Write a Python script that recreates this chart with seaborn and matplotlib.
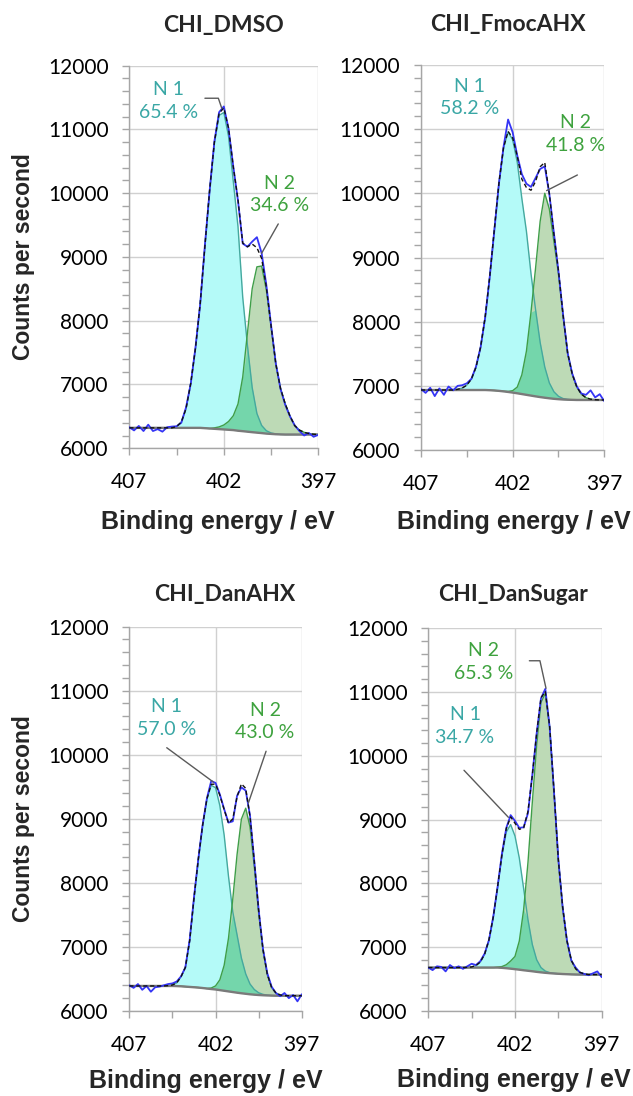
import numpy as np
import pandas as pd
import matplotlib
matplotlib.use("Agg")
import matplotlib.pyplot as plt
from matplotlib.ticker import MultipleLocator, FixedLocator
import seaborn as sns

# binding energy grid (eV), read every 0.25 eV
energy = [407.0, 406.75, 406.5, 406.25, 406.0, 405.75, 405.5, 405.25, 405.0, 404.75,
          404.5, 404.25, 404.0, 403.75, 403.5, 403.25, 403.0, 402.75, 402.5, 402.25,
          402.0, 401.75, 401.5, 401.25, 401.0, 400.75, 400.5, 400.25, 400.0, 399.75,
          399.5, 399.25, 399.0, 398.75, 398.5, 398.25, 398.0, 397.75, 397.5, 397.25, 397.0]

titles = ["CHI_DMSO", "CHI_FmocAHX", "CHI_DanAHX", "CHI_DanSugar"]
n1_pct = ["65.4 %", "58.2 %", "57.0 %", "34.7 %"]
n2_pct = ["34.6 %", "41.8 %", "43.0 %", "65.3 %"]

# CHI_DMSO: background, component heights above background, measured counts
dmso_bg = [6320, 6320, 6320, 6320, 6320, 6320, 6320, 6320, 6320, 6320, 6320, 6320, 6320, 6320,
           6320, 6320, 6315, 6310, 6305, 6300, 6295, 6290, 6285, 6275, 6268, 6260, 6252, 6245,
           6238, 6230, 6225, 6220, 6217, 6215, 6215, 6215, 6215, 6215, 6215, 6215, 6215]
dmso_n1 = [0, 0, 0, 0, 0, 0, 0, 0, 0, 0, 20, 90, 300, 700, 1250, 1950, 2860, 3740, 4480, 4920,
           4970, 4600, 3900, 3200, 2100, 1350, 700, 300, 120, 45, 15, 5, 0, 0, 0, 0, 0, 0, 0, 0, 0]
dmso_n2 = [0, 0, 0, 0, 0, 0, 0, 0, 0, 0, 0, 0, 0, 0, 0, 0, 0, 0, 15, 35, 70, 130, 225, 420, 850,
           1550, 2250, 2600, 2620, 2250, 1680, 1100, 720, 480, 290, 140, 70, 35, 15, 5, 0]
dmso_raw = [6330, 6280, 6350, 6270, 6370, 6270, 6300, 6260, 6330, 6340, 6345, 6400, 6640, 7010,
            7580, 8260, 9190, 10040, 10810, 11270, 11360, 11010, 10420, 9880, 9210, 9160, 9240,
            9310, 9060, 8560, 7930, 7330, 6930, 6680, 6500, 6360, 6270, 6200, 6240, 6180, 6210]

# CHI_FmocAHX
fmoc_bg = [6935, 6935, 6935, 6935, 6935, 6935, 6935, 6935, 6935, 6935, 6935, 6935, 6935, 6935,
           6935, 6932, 6928, 6922, 6914, 6905, 6895, 6884, 6872, 6860, 6848, 6836, 6825, 6815,
           6806, 6798, 6792, 6787, 6784, 6782, 6780, 6780, 6780, 6780, 6780, 6780, 6780]
fmoc_n1 = [0, 0, 0, 0, 0, 0, 0, 0, 11, 31, 76, 172, 355, 668, 1138, 1772, 2509, 3234, 3794, 4052,
           3940, 3600, 3050, 2550, 1900, 1350, 850, 480, 240, 110, 45, 15, 5, 0, 0, 0, 0, 0, 0, 0, 0]
fmoc_n2 = [0, 0, 0, 0, 0, 0, 0, 0, 0, 0, 0, 0, 0, 0, 0, 0, 0, 0, 2, 8, 30, 97, 300, 680, 1300,
           2000, 2740, 3186, 2950, 2450, 1950, 1300, 720, 400, 200, 90, 35, 12, 4, 0, 0]
fmoc_raw = [6950, 6890, 6970, 6840, 6960, 6860, 6990, 6930, 7000, 7010, 7040, 7110, 7300, 7600,
            8060, 8700, 9420, 10150, 10720, 11150, 10950, 10590, 10300, 10150, 10100, 10240,
            10380, 10420, 9990, 9380, 8780, 8110, 7510, 7190, 6990, 6880, 6860, 6930, 6820, 6870, 6760]

# CHI_DanAHX
danahx_bg = [6390, 6390, 6390, 6390, 6390, 6390, 6390, 6390, 6390, 6390, 6390, 6388, 6385, 6380,
             6375, 6370, 6365, 6358, 6350, 6342, 6335, 6325, 6315, 6305, 6295, 6285, 6276, 6268,
             6260, 6254, 6249, 6245, 6242, 6240, 6238, 6238, 6238, 6238, 6238, 6238, 6238]
danahx_n1 = [0, 0, 0, 0, 0, 0, 0, 0, 0, 5, 15, 50, 150, 300, 720, 1390, 2000, 2540, 2960, 3180,
             3150, 2880, 2430, 1800, 1250, 900, 550, 310, 160, 80, 35, 14, 5, 0, 0, 0, 0, 0, 0, 0, 0]
danahx_n2 = [0, 0, 0, 0, 0, 0, 0, 0, 0, 0, 0, 0, 0, 0, 0, 0, 0, 0, 0, 16, 56, 162, 398, 827, 1453,
             2160, 2719, 2897, 2612, 1994, 1288, 705, 326, 128, 43, 12, 0, 0, 0, 0, 0]
danahx_raw = [6400, 6360, 6420, 6330, 6390, 6300, 6370, 6380, 6400, 6420, 6430, 6460, 6540, 6680,
              7110, 7770, 8370, 8900, 9320, 9590, 9560, 9380, 9150, 8940, 8960, 9360, 9490, 9440,
              9050, 8330, 7580, 6970, 6590, 6380, 6280, 6230, 6280, 6200, 6250, 6150, 6260]

# CHI_DanSugar
sugar_bg = [6680, 6680, 6680, 6680, 6680, 6680, 6680, 6680, 6680, 6680, 6680, 6680, 6680, 6680,
            6680, 6680, 6680, 6676, 6670, 6663, 6655, 6647, 6638, 6630, 6622, 6613, 6605, 6598,
            6592, 6587, 6583, 6579, 6576, 6573, 6571, 6570, 6570, 6570, 6570, 6570, 6570]
sugar_n1 = [0, 0, 0, 0, 0, 0, 0, 0, 0, 3, 10, 32, 87, 209, 437, 796, 1267, 1759, 2134, 2259, 2088,
            1750, 1280, 800, 420, 190, 75, 27, 9, 3, 0, 0, 0, 0, 0, 0, 0, 0, 0, 0, 0]
sugar_n2 = [0, 0, 0, 0, 0, 0, 0, 0, 0, 0, 0, 0, 0, 0, 0, 0, 8, 20, 55, 120, 200, 450, 950, 1700,
            2650, 3550, 4230, 4380, 3860, 2860, 1790, 1050, 520, 220, 90, 35, 10, 0, 0, 0, 0]
sugar_raw = [6680, 6640, 6700, 6690, 6620, 6720, 6670, 6700, 6660, 6700, 6740, 6720, 6780, 6900,
             7110, 7480, 7950, 8470, 8870, 9070, 8980, 8870, 8880, 9100, 9700, 10350, 10900,
             11050, 10450, 9440, 8380, 7620, 7100, 6790, 6680, 6600, 6580, 6560, 6590, 6620, 6530]

panels = [
    (dmso_bg, dmso_n1, dmso_n2, dmso_raw),
    (fmoc_bg, fmoc_n1, fmoc_n2, fmoc_raw),
    (danahx_bg, danahx_n1, danahx_n2, danahx_raw),
    (sugar_bg, sugar_n1, sugar_n2, sugar_raw),
]

# layout: axes rectangles (figure fraction) and label placement
rects = [[0.2043, 0.5910, 0.2986, 0.3491],
         [0.6651, 0.5894, 0.2896, 0.3513],
         [0.2043, 0.0776, 0.2724, 0.3507],
         [0.6766, 0.0776, 0.2739, 0.3492]]
title_xy = [(0.496, 1.104), (0.475, 1.104), (0.555, 1.083), (0.49, 1.088)]
xlabel_xy = [(0.469, -0.192), (0.507, -0.186), (0.445, -0.181), (0.494, -0.181)]
ylabel_x = [-0.562, None, -0.616, None]

# annotation text centres and leader lines, in data coordinates
n1_text = [(404.94, 11450), (404.36, 11494), (404.83, 10573), (404.88, 10463)]
n2_text = [(399.03, 9981), (398.55, 10922), (399.13, 10517), (403.83, 11474)]
n1_leader = [[(403.0, 11489), (402.29, 11489), (402.11, 11332)],
             None,
             [(404.83, 10109), (402.13, 9574)],
             [(404.94, 9773), (402.38, 9036)]]
n2_leader = [[(399.12, 9518), (400.0, 9058)],
             [(398.47, 10286), (400.15, 10042)],
             [(399.07, 10054), (400.1, 9243)],
             [(401.17, 11490), (400.56, 11490), (400.21, 11058)]]

sns.set_style("white")
plt.rcParams['font.family'] = ['Lato', 'DejaVu Sans']

c1_fill = "#b4faf8"
c2_fill = "#bddab6"
c12_fill = "#74d6ab"
c1_edge = "#45a89e"
c2_edge = "#3f9e48"
c1_text = "#3aa7a5"
c2_text = "#3ea23e"
axis_grey = "#a6a6a6"

fig = plt.figure(figsize=(6.33, 10.96), dpi=100)

for i, (bg, n1, n2, raw) in enumerate(panels):
    ax = fig.add_axes(rects[i])
    bg = np.array(bg, dtype=float)
    n1 = np.array(n1, dtype=float)
    n2 = np.array(n2, dtype=float)
    df = pd.DataFrame({"energy": energy, "raw": raw, "bg": bg,
                       "n1": bg + n1, "n2": bg + n2, "env": bg + n1 + n2})

    ax.fill_between(df["energy"], df["bg"], df["n1"], color=c1_fill, lw=0, zorder=2)
    ax.fill_between(df["energy"], df["bg"], df["n2"], color=c2_fill, lw=0, zorder=2)
    ax.fill_between(df["energy"], df["bg"], bg + np.minimum(n1, n2), color=c12_fill, lw=0, zorder=2)

    sns.lineplot(data=df, x="energy", y="n1", ax=ax, sort=False, color=c1_edge, lw=1.0, zorder=3)
    sns.lineplot(data=df, x="energy", y="n2", ax=ax, sort=False, color=c2_edge, lw=1.0, zorder=3)
    sns.lineplot(data=df, x="energy", y="bg", ax=ax, sort=False, color="#7a7a7a", lw=1.7, zorder=4)
    sns.lineplot(data=df, x="energy", y="raw", ax=ax, sort=False, color="#3535f5", lw=1.3, zorder=5)
    sns.lineplot(data=df, x="energy", y="env", ax=ax, sort=False, color="#111111", lw=1.0,
                 linestyle=(0, (3, 2)), zorder=6)

    ax.set_xlim(407, 397)
    ax.set_ylim(6000, 12000)
    ax.xaxis.set_major_locator(FixedLocator([407, 402, 397]))
    ax.xaxis.set_minor_locator(FixedLocator([404.5, 399.5]))
    ax.yaxis.set_major_locator(MultipleLocator(1000))
    ax.yaxis.set_minor_locator(MultipleLocator(200))
    ax.grid(True, which="major", color="#d0d0d0", lw=1.0, zorder=0)
    ax.set_axisbelow(True)
    for side in ["top", "right"]:
        ax.spines[side].set_visible(False)
    for side in ["left", "bottom"]:
        ax.spines[side].set_color(axis_grey)
        ax.spines[side].set_linewidth(1.0)
    ax.tick_params(axis="both", which="both", direction="out", color=axis_grey,
                   length=5, width=1.0, labelsize=15, labelcolor="black")
    ax.tick_params(axis="y", which="both", left=True, pad=10)
    ax.tick_params(axis="x", which="both", bottom=True, pad=12)
    ax.set_xticklabels(["407", "402", "397"])

    ax.text(title_xy[i][0], title_xy[i][1], titles[i], transform=ax.transAxes,
            ha="center", va="center", fontsize=16.5, fontweight="bold")

    ax.set_xlabel("Binding energy / eV", family=["Liberation Sans", "DejaVu Sans"],
                  fontsize=18, fontweight="bold", va="center")
    ax.xaxis.set_label_coords(*xlabel_xy[i])
    if ylabel_x[i] is not None:
        ax.set_ylabel("Counts per second", family=["Liberation Sans", "DejaVu Sans"],
                      fontsize=16.5, fontweight="bold", va="center")
        ax.yaxis.set_label_coords(ylabel_x[i], 0.5)
    else:
        ax.set_ylabel("")

    ax.text(*n1_text[i], "N 1\n" + n1_pct[i], color=c1_text, ha="center", va="center",
            fontsize=14, linespacing=1.4, zorder=7)
    ax.text(*n2_text[i], "N 2\n" + n2_pct[i], color=c2_text, ha="center", va="center",
            fontsize=14, linespacing=1.4, zorder=7)
    for leader in [n1_leader[i], n2_leader[i]]:
        if leader is not None:
            lx, ly = zip(*leader)
            ax.plot(lx, ly, color="#5a5a5a", lw=1.0, zorder=7)

fig.savefig("out.png", dpi=100, facecolor="white")
